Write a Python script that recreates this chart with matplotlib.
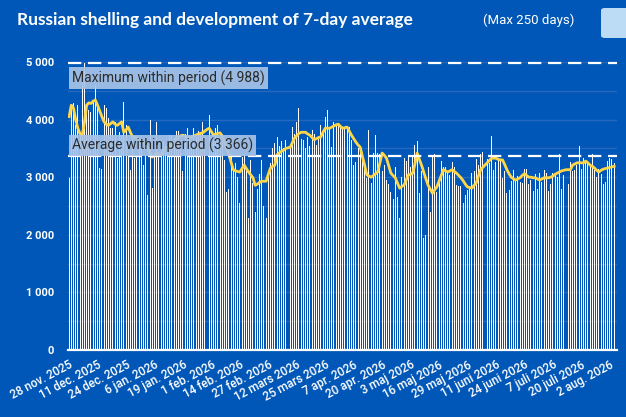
import numpy as np
import matplotlib
matplotlib.use("Agg")
import matplotlib.pyplot as plt
from matplotlib.patches import FancyBboxPatch
from matplotlib.ticker import FuncFormatter, MultipleLocator

# daily shelling counts, 28 nov. 2025 -> 4 aug. 2026 (250 days)
DAILY = [
    2980, 4250, 4280, 3910, 4250, 3730, 4660, 4988, 4250, 4170,
    4140, 4340, 4600, 4200, 3160, 3150, 4250, 4200, 4020, 3850,
    3850, 3960, 3330, 3790, 3730, 4310, 3900, 3390, 3130, 3730,
    3330, 3390, 3620, 3500, 3210, 3390, 2690, 3990, 2810, 3390,
    3960, 3390, 3390, 3620, 3560, 3560, 3730, 3730, 3680, 3800,
    3800, 3500, 3100, 3750, 3850, 3700, 3650, 3850, 3700, 3800,
    3750, 3950, 3700, 3850, 4080, 3700, 3650, 3850, 3900, 3700,
    3750, 3300, 2750, 2800, 3400, 3100, 3250, 3000, 2550, 3350,
    3400, 3150, 2300, 3300, 2900, 2400, 2800, 3050, 3300, 2500,
    2300, 3050, 3250, 3500, 3600, 3700, 3550, 3620, 3500, 3650,
    3500, 3520, 3880, 3750, 3950, 4200, 3660, 3650, 3500, 3700,
    3550, 3820, 3750, 3560, 3680, 3900, 3800, 4050, 4170, 3850,
    3530, 3950, 3900, 3920, 3850, 3880, 3850, 3830, 3880, 3650,
    3210, 3270, 3500, 3530, 3380, 3160, 2990, 3820, 2900, 3420,
    3730, 3420, 3400, 3100, 3210, 2950, 2880, 2740, 2630, 3180,
    2660, 2290, 3010, 3330, 3280, 3360, 3180, 3360, 3560, 3630,
    2720, 3100, 1940, 2000, 3180, 2400, 3360, 3400, 2750, 2980,
    3280, 3180, 3170, 3100, 3040, 3260, 3180, 2870, 2850, 2840,
    2550, 2690, 2780, 2840, 3070, 3100, 3320, 3210, 3410, 3440,
    3100, 3320, 3240, 3720, 3130, 3260, 3300, 3280, 2980, 3100,
    2720, 2780, 2930, 3125, 2930, 3020, 2910, 2900, 3140, 3150,
    2890, 2960, 2760, 3050, 2800, 3070, 2920, 3125, 3070, 2760,
    2890, 3080, 3050, 3010, 3400, 2800, 3040, 3280, 2890, 3260,
    3100, 3125, 3210, 3550, 3150, 3330, 3300, 3240, 3210, 3410,
    3125, 3010, 3140, 3050, 2890, 2920, 3280, 3330, 3320, 3240,
]

# 7-day average
AVG7 = [
    4050, 4250, 4200, 4000, 3850, 3750, 3730, 3950, 4250, 4290,
    4280, 4320, 4340, 4250, 4150, 4050, 3960, 3920, 3900, 3930,
    3960, 3920, 3900, 3930, 3960, 3780, 3820, 3870, 3780, 3700,
    3690, 3680, 3650, 3630, 3610, 3550, 3500, 3420, 3350, 3380,
    3420, 3400, 3390, 3450, 3500, 3520, 3540, 3550, 3560, 3680,
    3700, 3720, 3730, 3710, 3690, 3680, 3700, 3720, 3730, 3750,
    3760, 3770, 3800, 3830, 3850, 3790, 3730, 3750, 3760, 3770,
    3700, 3610, 3500, 3390, 3260, 3130, 3110, 3100, 3090, 3150,
    3210, 3150, 3090, 3040, 2990, 2860, 2880, 2910, 2930, 2930,
    2930, 3050, 3160, 3190, 3210, 3390, 3420, 3450, 3470, 3500,
    3510, 3520, 3600, 3680, 3720, 3760, 3780, 3780, 3780, 3750,
    3730, 3690, 3650, 3670, 3690, 3700, 3780, 3850, 3850, 3850,
    3870, 3890, 3910, 3920, 3880, 3850, 3860, 3870, 3800, 3730,
    3670, 3610, 3560, 3520, 3360, 3210, 3040, 3020, 3000, 3030,
    3060, 3090, 3250, 3420, 3380, 3330, 3200, 3070, 3030, 2990,
    2900, 2810, 2840, 2860, 2950, 3040, 3050, 3070, 3230, 3420,
    3310, 3210, 3090, 2970, 2860, 2790, 2720, 2780, 2830, 2930,
    3030, 3130, 3110, 3090, 3110, 3130, 3100, 3070, 3030, 2990,
    2940, 2880, 2830, 2820, 2810, 2860, 2900, 3020, 3130, 3170,
    3210, 3250, 3290, 3330, 3330, 3330, 3310, 3300, 3300, 3220,
    3130, 3060, 3000, 2970, 2950, 2970, 2990, 3030, 3060, 3030,
    3000, 3000, 2990, 2990, 2970, 2950, 2970, 2990, 2990, 2990,
    3000, 3020, 3050, 3070, 3090, 3110, 3120, 3130, 3130, 3130,
    3210, 3230, 3250, 3250, 3250, 3250, 3280, 3250, 3210, 3190,
    3160, 3120, 3090, 3120, 3140, 3150, 3160, 3170, 3180, 3190,
]

TICK_LABELS = [
    "28 nov. 2025", "11 dec. 2025", "24 dec. 2025", "6 jan. 2026",
    "19 jan. 2026", "1 feb. 2026", "14 feb. 2026", "27 feb. 2026",
    "12 mars 2026", "25 mars 2026", "7 apr. 2026", "20 apr. 2026",
    "3 maj 2026", "16 maj 2026", "29 maj 2026", "11 juni 2026",
    "24 juni 2026", "7 juli 2026", "20 juli 2026", "2 aug. 2026",
]
TICK_STEP = 13

MAX_VALUE = 4988
AVG_VALUE = 3366

BG = "#0057b7"
YELLOW = "#ffd54a"

W, H = 626, 417
fig = plt.figure(figsize=(W / 100, H / 100), dpi=100, facecolor=BG)

# axes box in pixel coords
left, right, top, bottom = 68, 617, 62, 350
ax = fig.add_axes([left / W, 1 - bottom / H, (right - left) / W, (bottom - top) / H])
ax.set_facecolor(BG)

days = np.arange(len(DAILY))
ax.bar(days, DAILY, width=0.45, color="white", linewidth=0, zorder=2)
ax.plot(days, AVG7, color=YELLOW, lw=2.0, zorder=4, solid_joinstyle="round")

ax.set_xlim(-0.5, len(DAILY) + 0.3)
ax.set_ylim(0, 5000)

ax.yaxis.set_major_locator(MultipleLocator(1000))
ax.yaxis.set_minor_locator(MultipleLocator(500))
ax.grid(which="both", axis="y", color="#2468c0", lw=1, zorder=1)
ax.set_axisbelow(True)
ax.yaxis.set_major_formatter(FuncFormatter(lambda v, p: f"{v:,.0f}".replace(",", " ")))

for s in ["top", "right", "left"]:
    ax.spines[s].set_visible(False)
ax.spines["bottom"].set_color("white")
ax.spines["bottom"].set_linewidth(1.6)
ax.spines["bottom"].set_zorder(5)

ax.tick_params(axis="y", which="both", length=0, pad=10, colors="white", labelsize=8)
for t in ax.get_yticklabels():
    t.set_fontweight("bold")
    t.set_family("Roboto")

ax.set_xticks(np.arange(0, len(TICK_LABELS) * TICK_STEP, TICK_STEP))
ax.set_xticklabels(TICK_LABELS, rotation=28, ha="right", rotation_mode="anchor",
                   color="white", fontsize=8.5, family="Roboto", fontweight="medium")
ax.tick_params(axis="x", length=0, pad=6)

# max / average reference lines with labels
for val in (MAX_VALUE, AVG_VALUE):
    ax.axhline(val, color="white", lw=1.6, dashes=(6, 3), zorder=6, clip_on=False)

box_style = dict(boxstyle="square,pad=0.22", fc="#a7c3e6", ec="none", alpha=0.92)
ax.text(1.2, MAX_VALUE - 130, f"Maximum within period ({MAX_VALUE:,})".replace(",", " "),
        ha="left", va="top", fontsize=10, family="Roboto", color="#2b2b2b",
        bbox=box_style, zorder=7)
ax.text(1.2, AVG_VALUE + 50, f"Average within period ({AVG_VALUE:,})".replace(",", " "),
        ha="left", va="bottom", fontsize=10, family="Roboto", color="#2b2b2b",
        bbox=box_style, zorder=7)

# header
fig.text(17 / W, 1 - 20 / H, "Russian shelling and development of 7-day average",
         ha="left", va="center", color="white", fontsize=12.5, fontweight="bold",
         family="Lato")
fig.text(483 / W, 1 - 20 / H, "(Max 250 days)", ha="left", va="center",
         color="white", fontsize=9.5, family="Roboto")
fig.patches.append(FancyBboxPatch((601 / W, 1 - 38 / H), 40 / W, 30 / H,
                                  boxstyle="round,pad=0,rounding_size=0.006",
                                  transform=fig.transFigure, fc="#bcdcf6", ec="none"))

fig.savefig("out.png", dpi=100, facecolor=BG)
